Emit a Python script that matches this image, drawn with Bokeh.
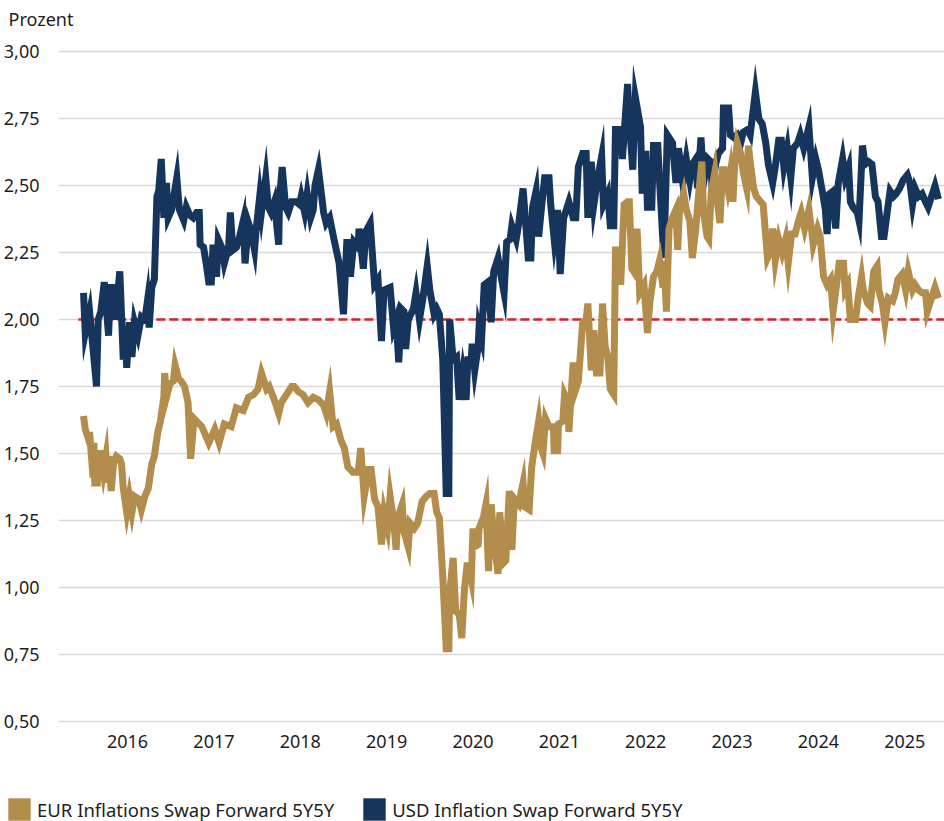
from bokeh.plotting import figure
from bokeh.layouts import column
from bokeh.models import Range1d, FixedTicker, CustomJSTickFormatter, Legend, LegendItem, Plot
from bokeh.core.properties import value
from bokeh.embed import file_html
from bokeh.resources import INLINE

# ---------------- data (decimal years, percent) ----------------
usd_t = [
    2015.99, 2016.01, 2016.06, 2016.14, 2016.16, 2016.19, 2016.23, 2016.28, 2016.30, 2016.34,
    2016.35, 2016.38, 2016.41, 2016.45, 2016.47, 2016.49, 2016.52, 2016.55, 2016.58, 2016.62,
    2016.66, 2016.70, 2016.73, 2016.75, 2016.78, 2016.81, 2016.84, 2016.86, 2016.89, 2016.92,
    2016.95, 2016.97, 2017.01, 2017.07, 2017.10, 2017.15, 2017.18, 2017.22, 2017.26, 2017.30,
    2017.33, 2017.34, 2017.38, 2017.41, 2017.44, 2017.47, 2017.49, 2017.53, 2017.55, 2017.59,
    2017.62, 2017.67, 2017.69, 2017.72, 2017.76, 2017.79, 2017.84, 2017.86, 2017.90, 2017.93,
    2017.97, 2017.99, 2018.03, 2018.05, 2018.10, 2018.13, 2018.16, 2018.20, 2018.25, 2018.26,
    2018.29, 2018.33, 2018.36, 2018.40, 2018.45, 2018.49, 2018.51, 2018.55, 2018.58, 2018.62,
    2018.65, 2018.67, 2018.71, 2018.77, 2018.80, 2018.84, 2018.89, 2018.95, 2019.00, 2019.04,
    2019.08, 2019.12, 2019.17, 2019.18, 2019.23, 2019.26, 2019.31, 2019.36, 2019.40, 2019.44,
    2019.47, 2019.54, 2019.58, 2019.61, 2019.64, 2019.67, 2019.70, 2019.72, 2019.75, 2019.81,
    2019.84, 2019.88, 2019.92, 2019.97, 2020.00, 2020.05, 2020.08, 2020.11, 2020.15, 2020.19,
    2020.22, 2020.23, 2020.27, 2020.31, 2020.34, 2020.38, 2020.42, 2020.44, 2020.48, 2020.49,
    2020.52, 2020.56, 2020.57, 2020.60, 2020.63, 2020.67, 2020.71, 2020.74, 2020.79, 2020.82,
    2020.86, 2020.89, 2020.93, 2020.95, 2021.00, 2021.03, 2021.08, 2021.14, 2021.17, 2021.19,
    2021.23, 2021.26, 2021.30, 2021.33, 2021.38, 2021.40, 2021.44, 2021.48, 2021.51, 2021.55,
    2021.61, 2021.66, 2021.69, 2021.72, 2021.77, 2021.81, 2021.83, 2021.87, 2021.90, 2021.94,
    2021.99, 2022.01, 2022.06, 2022.09, 2022.13, 2022.15, 2022.21, 2022.23, 2022.26, 2022.29,
    2022.31, 2022.35, 2022.38, 2022.44, 2022.46, 2022.50, 2022.52, 2022.57, 2022.59, 2022.64,
    2022.66, 2022.71, 2022.75, 2022.81, 2022.85, 2022.88, 2022.93, 2022.97, 2023.01, 2023.04,
    2023.08, 2023.10, 2023.14, 2023.17, 2023.22, 2023.25, 2023.27, 2023.31, 2023.34, 2023.39,
    2023.40, 2023.46, 2023.48, 2023.52, 2023.56, 2023.60, 2023.63, 2023.68, 2023.71, 2023.77,
    2023.81, 2023.85, 2023.89, 2023.92, 2023.97, 2024.00, 2024.04, 2024.07, 2024.10, 2024.14,
    2024.18, 2024.21, 2024.26, 2024.29, 2024.33, 2024.39, 2024.43, 2024.47, 2024.50, 2024.55,
    2024.58, 2024.60, 2024.63, 2024.67, 2024.70, 2024.73, 2024.78, 2024.81, 2024.85, 2024.87,
    2024.90, 2024.95, 2024.97, 2025.01, 2025.04, 2025.08, 2025.12, 2025.16, 2025.19, 2025.23,
    2025.26, 2025.30, 2025.33, 2025.37, 2025.40, 2025.44, 2025.48, 2025.53, 2025.56, 2025.59,
    2025.62, 2025.66, 2025.70, 2025.74, 2025.77, 2025.82, 2025.85, 2025.89,
]
usd_v = [
    2.10, 1.95, 2.03, 1.75, 2.00, 2.03, 2.14, 1.94, 2.12, 2.12,
    2.00, 2.08, 2.18, 1.85, 1.97, 1.82, 1.99, 1.86, 1.99, 1.94,
    2.01, 2.00, 2.07, 1.97, 2.12, 2.15, 2.46, 2.48, 2.60, 2.38,
    2.51, 2.38, 2.41, 2.53, 2.41, 2.37, 2.42, 2.39, 2.38, 2.40,
    2.40, 2.28, 2.27, 2.21, 2.14, 2.14, 2.28, 2.16, 2.30, 2.27,
    2.21, 2.27, 2.40, 2.26, 2.27, 2.30, 2.37, 2.21, 2.36, 2.33,
    2.26, 2.34, 2.46, 2.40, 2.53, 2.42, 2.40, 2.44, 2.28, 2.45,
    2.57, 2.42, 2.40, 2.44, 2.44, 2.43, 2.46, 2.40, 2.47, 2.38,
    2.41, 2.50, 2.56, 2.40, 2.36, 2.38, 2.30, 2.21, 2.02, 2.30,
    2.16, 2.29, 2.27, 2.34, 2.19, 2.33, 2.36, 2.13, 2.15, 1.92,
    2.11, 2.12, 1.97, 2.00, 1.84, 2.04, 2.03, 1.89, 2.00, 2.04,
    2.10, 2.00, 2.08, 2.20, 2.11, 2.02, 2.04, 2.02, 1.85, 1.35,
    1.35, 2.00, 1.85, 1.86, 1.70, 1.80, 1.70, 1.85, 1.85, 1.91,
    1.81, 1.90, 1.97, 1.93, 2.13, 2.14, 1.99, 2.18, 2.23, 2.17,
    2.10, 2.29, 2.30, 2.35, 2.30, 2.36, 2.49, 2.23, 2.23, 2.42,
    2.48, 2.31, 2.44, 2.53, 2.53, 2.43, 2.30, 2.41, 2.17, 2.38,
    2.44, 2.38, 2.38, 2.57, 2.62, 2.62, 2.38, 2.59, 2.43, 2.52,
    2.61, 2.43, 2.47, 2.35, 2.35, 2.71, 2.71, 2.60, 2.74, 2.88,
    2.74, 2.56, 2.83, 2.72, 2.47, 2.63, 2.42, 2.42, 2.65, 2.65,
    2.52, 2.23, 2.69, 2.66, 2.51, 2.64, 2.51, 2.60, 2.52, 2.58,
    2.60, 2.49, 2.68, 2.51, 2.60, 2.59, 2.49, 2.58, 2.62, 2.64,
    2.79, 2.79, 2.69, 2.68, 2.69, 2.66, 2.70, 2.71, 2.69, 2.85,
    2.75, 2.73, 2.66, 2.58, 2.51, 2.57, 2.67, 2.67, 2.57, 2.64,
    2.53, 2.64, 2.66, 2.69, 2.64, 2.72, 2.53, 2.60, 2.56, 2.47,
    2.41, 2.32, 2.47, 2.48, 2.34, 2.51, 2.60, 2.53, 2.57, 2.44,
    2.42, 2.40, 2.37, 2.65, 2.58, 2.59, 2.58, 2.46, 2.44, 2.31,
    2.31, 2.41, 2.48, 2.46, 2.47, 2.49, 2.52, 2.54, 2.51, 2.43,
    2.49, 2.46, 2.47, 2.44, 2.42, 2.47, 2.50, 2.45,
]

eur_t = [
    2015.99, 2016.01, 2016.05, 2016.06, 2016.10, 2016.11, 2016.12, 2016.15, 2016.16, 2016.19,
    2016.22, 2016.25, 2016.27, 2016.28, 2016.31, 2016.34, 2016.37, 2016.41, 2016.43, 2016.45,
    2016.49, 2016.52, 2016.55, 2016.58, 2016.63, 2016.66, 2016.70, 2016.74, 2016.78, 2016.81,
    2016.85, 2016.88, 2016.92, 2016.93, 2016.95, 2016.99, 2017.03, 2017.05, 2017.09, 2017.12,
    2017.16, 2017.20, 2017.23, 2017.27, 2017.36, 2017.44, 2017.51, 2017.56, 2017.62, 2017.70,
    2017.76, 2017.84, 2017.90, 2017.96, 2018.01, 2018.05, 2018.11, 2018.14, 2018.20, 2018.25,
    2018.28, 2018.34, 2018.40, 2018.43, 2018.48, 2018.53, 2018.59, 2018.65, 2018.71, 2018.77,
    2018.80, 2018.84, 2018.88, 2018.92, 2018.97, 2019.01, 2019.05, 2019.11, 2019.17, 2019.20,
    2019.24, 2019.29, 2019.32, 2019.36, 2019.40, 2019.44, 2019.47, 2019.51, 2019.54, 2019.58,
    2019.61, 2019.63, 2019.68, 2019.70, 2019.75, 2019.77, 2019.82, 2019.86, 2019.91, 2019.96,
    2020.00, 2020.05, 2020.08, 2020.11, 2020.15, 2020.19, 2020.22, 2020.23, 2020.27, 2020.30,
    2020.34, 2020.37, 2020.40, 2020.43, 2020.45, 2020.48, 2020.50, 2020.51, 2020.56, 2020.57,
    2020.62, 2020.65, 2020.68, 2020.71, 2020.74, 2020.79, 2020.81, 2020.85, 2020.88, 2020.92,
    2020.95, 2020.98, 2021.03, 2021.08, 2021.10, 2021.15, 2021.18, 2021.22, 2021.26, 2021.29,
    2021.31, 2021.34, 2021.38, 2021.43, 2021.44, 2021.48, 2021.49, 2021.54, 2021.56, 2021.60,
    2021.61, 2021.66, 2021.69, 2021.72, 2021.77, 2021.81, 2021.83, 2021.87, 2021.90, 2021.93,
    2021.97, 2022.00, 2022.03, 2022.06, 2022.09, 2022.13, 2022.15, 2022.19, 2022.21, 2022.25,
    2022.29, 2022.31, 2022.34, 2022.36, 2022.40, 2022.43, 2022.48, 2022.52, 2022.55, 2022.59,
    2022.63, 2022.66, 2022.70, 2022.71, 2022.74, 2022.77, 2022.81, 2022.85, 2022.87, 2022.89,
    2022.94, 2022.97, 2023.01, 2023.04, 2023.08, 2023.11, 2023.15, 2023.17, 2023.21, 2023.23,
    2023.26, 2023.30, 2023.33, 2023.36, 2023.39, 2023.41, 2023.45, 2023.48, 2023.51, 2023.53,
    2023.56, 2023.60, 2023.63, 2023.67, 2023.69, 2023.71, 2023.75, 2023.78, 2023.83, 2023.86,
    2023.91, 2023.95, 2023.97, 2024.00, 2024.04, 2024.08, 2024.12, 2024.15, 2024.19, 2024.23,
    2024.27, 2024.30, 2024.34, 2024.39, 2024.43, 2024.44, 2024.49, 2024.52, 2024.56, 2024.60,
    2024.64, 2024.67, 2024.71, 2024.74, 2024.79, 2024.81, 2024.84, 2024.87, 2024.93, 2024.96,
    2025.00, 2025.02, 2025.07, 2025.10, 2025.14, 2025.18, 2025.20, 2025.24, 2025.27, 2025.31,
    2025.36, 2025.39, 2025.42, 2025.47, 2025.51, 2025.54, 2025.59, 2025.62, 2025.66, 2025.70,
    2025.74, 2025.76, 2025.81, 2025.85, 2025.89,
]
eur_v = [
    1.64, 1.59, 1.55, 1.58, 1.41, 1.54, 1.39, 1.39, 1.50, 1.50,
    1.43, 1.49, 1.39, 1.49, 1.36, 1.47, 1.49, 1.48, 1.46, 1.37,
    1.28, 1.34, 1.28, 1.34, 1.33, 1.29, 1.34, 1.37, 1.46, 1.49,
    1.58, 1.62, 1.71, 1.80, 1.71, 1.76, 1.77, 1.83, 1.78, 1.77,
    1.75, 1.69, 1.48, 1.63, 1.60, 1.54, 1.59, 1.54, 1.61, 1.60,
    1.67, 1.66, 1.71, 1.72, 1.74, 1.80, 1.74, 1.75, 1.70, 1.65,
    1.69, 1.72, 1.75, 1.75, 1.73, 1.72, 1.69, 1.71, 1.70, 1.68,
    1.65, 1.73, 1.60, 1.61, 1.55, 1.52, 1.45, 1.43, 1.43, 1.52,
    1.34, 1.44, 1.44, 1.33, 1.30, 1.16, 1.28, 1.22, 1.34, 1.25,
    1.14, 1.26, 1.31, 1.21, 1.15, 1.24, 1.22, 1.24, 1.32, 1.34,
    1.35, 1.35, 1.28, 1.26, 1.04, 0.77, 0.77, 0.98, 1.11, 0.91,
    0.90, 0.81, 0.99, 1.08, 1.08, 1.03, 1.22, 1.15, 1.16, 1.22,
    1.26, 1.31, 1.06, 1.31, 1.19, 1.05, 1.28, 1.09, 1.10, 1.36,
    1.14, 1.33, 1.31, 1.39, 1.30, 1.29, 1.45, 1.54, 1.62, 1.52,
    1.50, 1.63, 1.60, 1.60, 1.51, 1.51, 1.61, 1.62, 1.72, 1.69,
    1.58, 1.84, 1.74, 1.77, 1.99, 2.00, 2.06, 1.81, 1.96, 1.80,
    1.80, 2.06, 1.90, 1.86, 1.74, 1.72, 2.26, 2.26, 2.13, 2.43,
    2.44, 2.44, 2.19, 2.18, 2.34, 2.10, 2.13, 1.95, 2.07, 2.16,
    2.18, 2.22, 2.12, 2.22, 2.03, 2.34, 2.38, 2.41, 2.26, 2.40,
    2.47, 2.41, 2.37, 2.23, 2.34, 2.46, 2.59, 2.40, 2.31, 2.30,
    2.48, 2.55, 2.44, 2.36, 2.56, 2.56, 2.49, 2.55, 2.44, 2.58,
    2.66, 2.62, 2.55, 2.49, 2.65, 2.59, 2.49, 2.46, 2.44, 2.43,
    2.23, 2.26, 2.34, 2.22, 2.30, 2.25, 2.30, 2.21, 2.32, 2.32,
    2.37, 2.40, 2.34, 2.41, 2.31, 2.28, 2.34, 2.31, 2.16, 2.13,
    2.15, 2.03, 2.13, 2.21, 2.21, 2.11, 2.13, 2.00, 2.00, 2.08,
    2.16, 2.11, 2.06, 2.05, 2.18, 2.20, 2.11, 2.06, 1.99, 2.08,
    2.07, 2.10, 2.15, 2.17, 2.11, 2.18, 2.11, 2.13, 2.11, 2.10,
    2.10, 2.03, 2.08, 2.12, 2.08,
]

years = [2016, 2017, 2018, 2019, 2020, 2021, 2022, 2023, 2024, 2025]
y_ticks = [0.50, 0.75, 1.00, 1.25, 1.50, 1.75, 2.00, 2.25, 2.50, 2.75, 3.00]
ref_level = 2.00
series_names = ["EUR Inflations Swap Forward 5Y5Y", "USD Inflation Swap Forward 5Y5Y"]
unit_label = "Prozent"

# ---------------- styling ----------------
EUR_COLOR = "#B38D4B"
USD_COLOR = "#15355D"
RED = "#D5232A"
FONT = "Noto Sans"
TXT = "#1e1e1e"
W = 944
H_TOP, H_MAIN, H_LEG = 36, 752, 33
NAN = float("nan")


def bare(fig):
    fig.outline_line_color = None
    fig.background_fill_color = "white"
    fig.border_fill_color = "white"
    fig.xgrid.visible = False
    fig.ygrid.visible = False
    if "frame_align" in Plot.properties():
        fig.frame_align = False
    return fig


# ---- header: unit label ----
top = bare(figure(width=W, height=H_TOP, output_backend="svg", toolbar_location=None,
                  x_range=Range1d(0, W), y_range=Range1d(0, H_TOP),
                  x_axis_location=None, y_axis_location=None,
                  min_border=0, min_border_left=0, min_border_right=0,
                  min_border_top=0, min_border_bottom=0))
top.text(x=[8], y=[H_TOP / 2], text=[unit_label], text_font=value(FONT),
         text_font_size="18px", text_color=TXT, text_baseline="middle", text_align="left")

# ---- main chart ----
p = bare(figure(width=W, height=H_MAIN, output_backend="svg", toolbar_location=None,
                x_range=Range1d(2015.70, 2025.96), y_range=Range1d(0.48, 3.02),
                min_border_left=57, min_border_right=0, min_border_top=10, min_border_bottom=62))
p.ygrid.visible = True
p.ygrid.grid_line_color = "#d9d9d9"
p.ygrid.grid_line_width = 1.5

p.xaxis.ticker = FixedTicker(ticks=[y + 0.5 for y in years])
p.xaxis.formatter = CustomJSTickFormatter(code="return String(Math.floor(tick));")
p.yaxis.ticker = FixedTicker(ticks=y_ticks)
p.yaxis.formatter = CustomJSTickFormatter(code="return tick.toFixed(2).replace('.', ',');")
for ax in (p.xaxis, p.yaxis):
    ax.axis_line_color = None
    ax.major_tick_line_color = None
    ax.minor_tick_line_color = None
    ax.major_label_text_font = FONT
    ax.major_label_text_font_size = "18px"
    ax.major_label_text_color = TXT
p.yaxis.major_label_standoff = 13
p.xaxis.major_label_standoff = 2

# reference line at 2 %
p.line([usd_t[0] - 0.06, 2026.5], [ref_level, ref_level], line_color=RED,
       line_width=2.5, line_dash="9 4")

p.line(usd_t, usd_v, line_color=USD_COLOR, line_width=7, line_join="miter")
p.line(eur_t, eur_v, line_color=EUR_COLOR, line_width=7, line_join="miter")

# ---- legend strip ----
leg = bare(figure(width=W, height=H_LEG, output_backend="svg", toolbar_location=None,
                  x_range=Range1d(0, 1), y_range=Range1d(0, 1),
                  x_axis_location=None, y_axis_location=None,
                  min_border=0, min_border_left=0, min_border_right=0,
                  min_border_top=0, min_border_bottom=0))
k_eur = leg.quad(left=[NAN], right=[NAN], top=[NAN], bottom=[NAN],
                 fill_color=EUR_COLOR, line_color=None)
k_usd = leg.quad(left=[NAN], right=[NAN], top=[NAN], bottom=[NAN],
                 fill_color=USD_COLOR, line_color=None)
legend = Legend(items=[LegendItem(label=series_names[0], renderers=[k_eur]),
                       LegendItem(label=series_names[1], renderers=[k_usd])],
                location=(5, -2), orientation="horizontal",
                glyph_width=28, glyph_height=28, label_height=28, label_standoff=4,
                spacing=26, padding=0, margin=0,
                border_line_color=None, background_fill_alpha=0,
                label_text_font=FONT, label_text_font_size="18.5px", label_text_color=TXT)
leg.add_layout(legend)

layout = column(top, p, leg, spacing=0)
open("out.html", "w").write(file_html(layout, INLINE))
